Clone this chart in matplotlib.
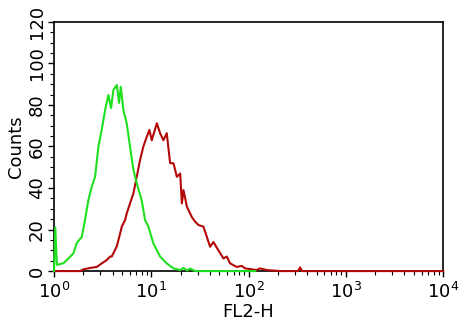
import matplotlib

matplotlib.use("Agg")
import matplotlib.pyplot as plt
from matplotlib.ticker import LogLocator, MultipleLocator

# FL2-H channel values and event counts
green_fl2 = [1.00, 1.03, 1.07, 1.25, 1.40, 1.58, 1.71, 1.93, 2.08, 2.25, 2.44, 2.64,
             2.86, 3.09, 3.35, 3.62, 3.86, 4.07, 4.42, 4.66, 4.85, 5.16, 5.59, 6.04,
             6.54, 7.08, 7.97, 8.62, 9.33, 10.5, 12.3, 14.4, 16.9, 19.8, 21.4, 23.3,
             25.0, 28.2, 117]
green_counts = [0, 21, 3, 3.8, 6, 8.5, 13.5, 16.5, 24.6, 34, 40.6, 45.4,
                60, 68, 77.6, 84.8, 78.5, 87.2, 89.6, 81, 88.8, 77.6, 71, 60,
                48.7, 42.3, 34, 24.6, 21.4, 13.3, 7, 3.7, 1.3, 0.5, 1.5, 0.3,
                1.2, 0, 0]

red_fl2 = [1.00, 1.85, 2.0, 2.34, 2.75, 3.09, 3.48, 3.77, 3.92, 4.42, 4.77, 4.97,
           5.37, 5.59, 6.04, 6.54, 7.08, 7.66, 8.28, 8.98, 9.55, 10.1, 11.4, 12.3,
           13.3, 14.4, 15.6, 16.9, 18.3, 19.8, 20.6, 21.4, 23.2, 26.1, 28.2, 30.5,
           34.3, 37.2, 40.2, 43.5, 48.9, 55.1, 59.7, 64.5, 75.6, 85.1, 92.0, 121,
           131, 154, 211, 323, 338, 355, 10000]
red_counts = [0, 0, 0.8, 1.5, 2, 3.7, 5.3, 7, 7, 12, 18, 21.4,
              24.6, 27.8, 32.6, 37.4, 45.4, 53.5, 60, 64.7, 68, 63, 71.2, 66.4,
              63, 66.4, 52, 51.9, 45.4, 47, 32.6, 39, 31, 26, 23.8, 22.2,
              21.4, 16.5, 11.7, 14, 10, 6.1, 7, 3.7, 2, 2.5, 1.3, 0.5,
              1.3, 0.5, 0, 0, 1.8, 0, 0]

plt.rcParams["font.family"] = ["DejaVu Sans"]

fig = plt.figure(figsize=(4.66, 3.27), dpi=100)
ax = fig.add_axes([0.116, 0.171, 0.835, 0.762])

ax.plot(red_fl2, red_counts, color="#b40808", lw=1.5, zorder=3, clip_on=False)
ax.plot(green_fl2, green_counts, color="#1fe01f", lw=1.5, zorder=4, clip_on=False)

ax.set_xscale("log")
ax.set_xlim(1, 1e4)
ax.set_ylim(0, 120)
ax.yaxis.set_major_locator(MultipleLocator(20))
ax.yaxis.set_minor_locator(MultipleLocator(5))
ax.xaxis.set_major_locator(LogLocator(base=10, numticks=10))
ax.xaxis.set_minor_locator(LogLocator(base=10, subs=range(2, 10), numticks=10))

for s in ax.spines.values():
    s.set_linewidth(1.2)
ax.tick_params(which="major", direction="out", length=4, width=1, labelsize=13)
ax.tick_params(which="minor", direction="out", length=3, width=0.8)
ax.tick_params(axis="y", labelrotation=90, pad=2)
for lbl in ax.get_yticklabels():
    lbl.set_va("center")

ax.set_xlabel("FL2-H", fontsize=13, labelpad=1)
ax.set_ylabel("Counts", fontsize=13, labelpad=2)

fig.savefig("out.png", dpi=100)
plt.close(fig)
